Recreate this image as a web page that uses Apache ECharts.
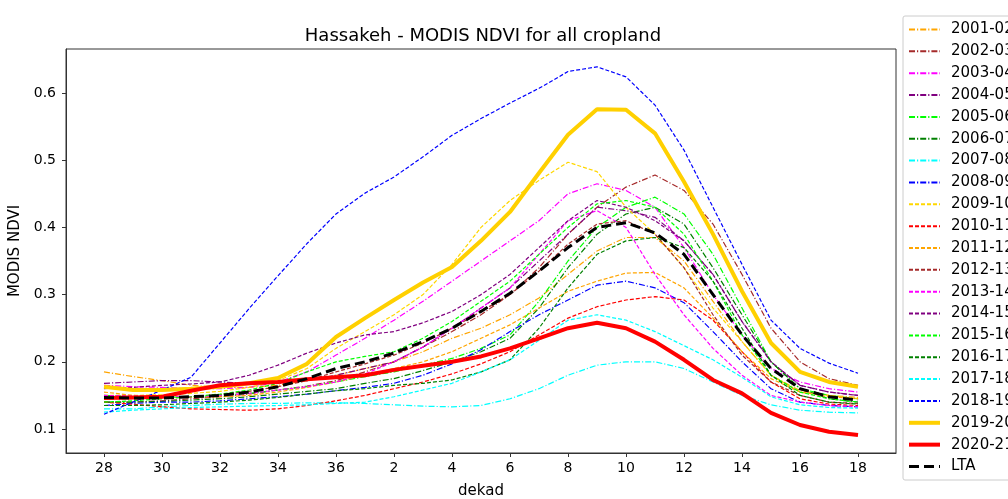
<!DOCTYPE html>
<html><head><meta charset="utf-8">
<script src="https://cdn.jsdelivr.net/npm/echarts@6/dist/echarts.min.js"></script>
<style>html,body{margin:0;padding:0;background:#fff}#c{width:1008px;height:499px}</style>
</head><body><div id="c"></div>
<script>
const dekads = ['28','29','30','31','32','33','34','35','36','1','2','3','4','5','6','7','8','9','10','11','12','13','14','15','16','17','18'];
const yTicks = [0.1,0.2,0.3,0.4,0.5,0.6];
const seriesNames = ['2001-02','2002-03','2003-04','2004-05','2005-06','2006-07','2007-08','2008-09','2009-10','2010-11','2011-12','2012-13','2013-14','2014-15','2015-16','2016-17','2017-18','2018-19','2019-20','2020-21','LTA'];

const v2001_02 = [0.185,0.178,0.172,0.165,0.162,0.162,0.165,0.172,0.18,0.19,0.2,0.215,0.235,0.25,0.27,0.295,0.33,0.365,0.385,0.385,0.35,0.29,0.23,0.18,0.157,0.15,0.147];
const v2002_03 = [0.14,0.14,0.142,0.145,0.148,0.152,0.158,0.164,0.172,0.185,0.2,0.222,0.245,0.27,0.3,0.34,0.39,0.43,0.46,0.478,0.455,0.405,0.33,0.25,0.2,0.175,0.165];
const v2003_04 = [0.165,0.163,0.162,0.16,0.16,0.162,0.17,0.185,0.21,0.235,0.262,0.29,0.32,0.35,0.38,0.41,0.45,0.465,0.455,0.43,0.37,0.3,0.24,0.19,0.17,0.16,0.155];
const v2004_05 = [0.168,0.17,0.172,0.172,0.17,0.168,0.168,0.172,0.18,0.19,0.2,0.222,0.25,0.28,0.31,0.35,0.39,0.43,0.425,0.415,0.38,0.33,0.26,0.2,0.165,0.155,0.15];
const v2005_06 = [0.15,0.148,0.147,0.148,0.15,0.153,0.158,0.163,0.17,0.178,0.185,0.195,0.205,0.22,0.24,0.29,0.35,0.4,0.43,0.445,0.42,0.36,0.28,0.2,0.16,0.15,0.145];
const v2006_07 = [0.14,0.14,0.141,0.143,0.145,0.148,0.152,0.156,0.16,0.168,0.175,0.187,0.2,0.215,0.235,0.28,0.34,0.39,0.42,0.43,0.405,0.34,0.27,0.2,0.16,0.145,0.14];
const v2007_08 = [0.13,0.13,0.133,0.135,0.137,0.138,0.138,0.139,0.139,0.138,0.136,0.134,0.133,0.135,0.145,0.16,0.18,0.195,0.2,0.2,0.19,0.17,0.15,0.136,0.128,0.125,0.124];
const v2008_09 = [0.135,0.138,0.14,0.14,0.142,0.145,0.148,0.152,0.157,0.162,0.168,0.18,0.197,0.218,0.245,0.27,0.292,0.314,0.32,0.31,0.288,0.245,0.2,0.16,0.14,0.135,0.133];
const v2009_10 = [0.15,0.15,0.151,0.153,0.156,0.162,0.172,0.19,0.22,0.245,0.27,0.3,0.345,0.4,0.44,0.47,0.497,0.483,0.43,0.39,0.34,0.28,0.23,0.18,0.155,0.15,0.145];
const v2010_11 = [0.14,0.137,0.133,0.13,0.129,0.128,0.13,0.135,0.142,0.15,0.16,0.17,0.182,0.197,0.215,0.24,0.265,0.282,0.292,0.297,0.292,0.262,0.215,0.17,0.145,0.137,0.135];
const v2011_12 = [0.155,0.15,0.147,0.147,0.148,0.15,0.155,0.162,0.17,0.18,0.19,0.2,0.215,0.235,0.255,0.28,0.305,0.32,0.332,0.333,0.31,0.265,0.215,0.175,0.155,0.148,0.145];
const v2012_13 = [0.145,0.145,0.146,0.148,0.151,0.156,0.163,0.172,0.185,0.197,0.21,0.228,0.25,0.275,0.3,0.335,0.375,0.405,0.41,0.39,0.34,0.27,0.21,0.17,0.15,0.14,0.138];
const v2013_14 = [0.15,0.149,0.148,0.148,0.15,0.153,0.158,0.163,0.17,0.182,0.2,0.222,0.25,0.28,0.31,0.36,0.41,0.425,0.4,0.33,0.27,0.22,0.18,0.15,0.14,0.135,0.133];
const v2014_15 = [0.16,0.162,0.165,0.167,0.17,0.18,0.195,0.213,0.228,0.24,0.245,0.258,0.275,0.3,0.33,0.37,0.41,0.44,0.43,0.41,0.38,0.33,0.26,0.2,0.165,0.155,0.15];
const v2015_16 = [0.14,0.142,0.145,0.148,0.152,0.158,0.168,0.185,0.2,0.208,0.215,0.235,0.26,0.29,0.32,0.36,0.4,0.435,0.44,0.43,0.39,0.32,0.24,0.18,0.155,0.145,0.14];
const v2016_17 = [0.135,0.135,0.136,0.138,0.14,0.143,0.147,0.152,0.157,0.16,0.165,0.168,0.173,0.185,0.203,0.25,0.31,0.36,0.38,0.385,0.37,0.32,0.25,0.18,0.15,0.14,0.137];
const v2017_18 = [0.125,0.128,0.13,0.132,0.133,0.134,0.135,0.136,0.138,0.14,0.148,0.158,0.168,0.185,0.203,0.232,0.262,0.27,0.262,0.245,0.224,0.203,0.177,0.148,0.136,0.132,0.131];
const v2018_19 = [0.122,0.14,0.158,0.177,0.228,0.279,0.328,0.376,0.42,0.451,0.475,0.505,0.537,0.562,0.585,0.607,0.632,0.639,0.624,0.582,0.515,0.43,0.345,0.262,0.22,0.198,0.183];
const v2019_20 = [0.163,0.158,0.158,0.16,0.163,0.168,0.176,0.197,0.237,0.265,0.292,0.318,0.341,0.38,0.423,0.481,0.538,0.576,0.575,0.54,0.468,0.39,0.305,0.228,0.185,0.17,0.163];
const v2020_21 = [0.146,0.147,0.148,0.157,0.165,0.168,0.17,0.174,0.177,0.18,0.188,0.194,0.2,0.208,0.22,0.235,0.25,0.258,0.25,0.23,0.203,0.173,0.153,0.124,0.106,0.096,0.091];
const vLTA = [0.147,0.146,0.146,0.148,0.15,0.155,0.163,0.175,0.19,0.2,0.213,0.23,0.25,0.275,0.302,0.335,0.37,0.4,0.407,0.392,0.36,0.3,0.24,0.19,0.16,0.148,0.143];

const allValues = [v2001_02,v2002_03,v2003_04,v2004_05,v2005_06,v2006_07,v2007_08,v2008_09,v2009_10,v2010_11,v2011_12,v2012_13,v2013_14,v2014_15,v2015_16,v2016_17,v2017_18,v2018_19,v2019_20,v2020_21,vLTA];

const colors = ['#FFA500','#A52A2A','#FF00FF','#800080','#00FF00','#008000','#00FFFF','#0000FF','#FFD700','#FF0000','#FFA500','#A52A2A','#FF00FF','#800080','#00FF00','#008000','#00FFFF','#0000FF','#FFD000','#FF0000','#000000'];
const DASHDOT = [6,2,1.2,2];
const DASHED = [4,2];

function styleOf(k) {
  if (k < 8) return { type: DASHDOT, width: 1.2 };
  if (k < 18) return { type: DASHED, width: 1.2 };
  if (k < 20) return { type: 'solid', width: 4 };
  return { type: [10,5], width: 3 };
}

const series = seriesNames.map((name, k) => {
  const st = styleOf(k);
  return {
    name, type: 'line', symbol: 'none', showSymbol: false,
    data: allValues[k].map((v, i) => [i, v]),
    lineStyle: { color: colors[k], width: st.width, type: st.type },
    itemStyle: { color: colors[k] },
    z: k >= 18 ? 3 : 2,
    animation: false
  };
});

const legendData = seriesNames.map((name, k) => {
  const st = styleOf(k);
  return st.width >= 3 ? { name, lineStyle: { width: st.width } } : name;
});

const chart = echarts.init(document.getElementById('c'), null, { renderer: 'canvas' });
const FONT = 'DejaVu Sans';
chart.setOption({
  animation: false,
  textStyle: { fontFamily: FONT },
  title: { text: 'Hassakeh - MODIS NDVI for all cropland', left: 478, top: 22, textAlign: 'center',
    textStyle: { fontFamily: FONT, fontSize: 18, fontWeight: 'normal', color: '#000' } },
  grid: { left: 66, right: 112, top: 49, bottom: 46, containLabel: false, outerBoundsMode: 'none',
    show: true, borderColor: '#333', borderWidth: 1, backgroundColor: 'transparent' },
  legend: {
    orient: 'vertical', left: 903, top: 16,
    itemWidth: 31, itemHeight: 12, itemGap: 6.85,
    padding: [6, 8, 6, 4],
    borderColor: '#ccc', borderWidth: 1, borderRadius: 2,
    itemStyle: { opacity: 0, borderWidth: 0 },
    textStyle: { fontFamily: FONT, fontSize: 15, color: '#000', padding: [0,0,0,6] },
    data: legendData
  },
  xAxis: {
    type: 'value', min: -1.31, max: 27.31,
    name: 'dekad', nameLocation: 'middle', nameGap: 31,
    nameTextStyle: { fontFamily: FONT, fontSize: 15, color: '#000' },
    axisLine: { onZero: false, lineStyle: { color: '#333' } },
    axisTick: { show: true, length: 4, inside: false, customValues: [0,2,4,6,8,10,12,14,16,18,20,22,24,26], lineStyle: { color: '#333' } },
    axisLabel: { customValues: [0,2,4,6,8,10,12,14,16,18,20,22,24,26], formatter: v => dekads[Math.round(v)], fontFamily: FONT, fontSize: 14, color: '#000', margin: 8 },
    splitLine: { show: false }
  },
  yAxis: {
    type: 'value', min: 0.0643, max: 0.6655,
    name: 'MODIS NDVI', nameLocation: 'middle', nameGap: 31, nameRotate: 90,
    nameTextStyle: { fontFamily: FONT, fontSize: 15, color: '#000' },
    axisLine: { show: true, onZero: false, lineStyle: { color: '#333' } },
    axisTick: { show: true, length: 4, customValues: yTicks, lineStyle: { color: '#333' } },
    axisLabel: { customValues: yTicks, formatter: v => v.toFixed(1), fontFamily: FONT, fontSize: 14, color: '#000', margin: 10 },
    splitLine: { show: false }
  },
  series
});
</script></body></html>
